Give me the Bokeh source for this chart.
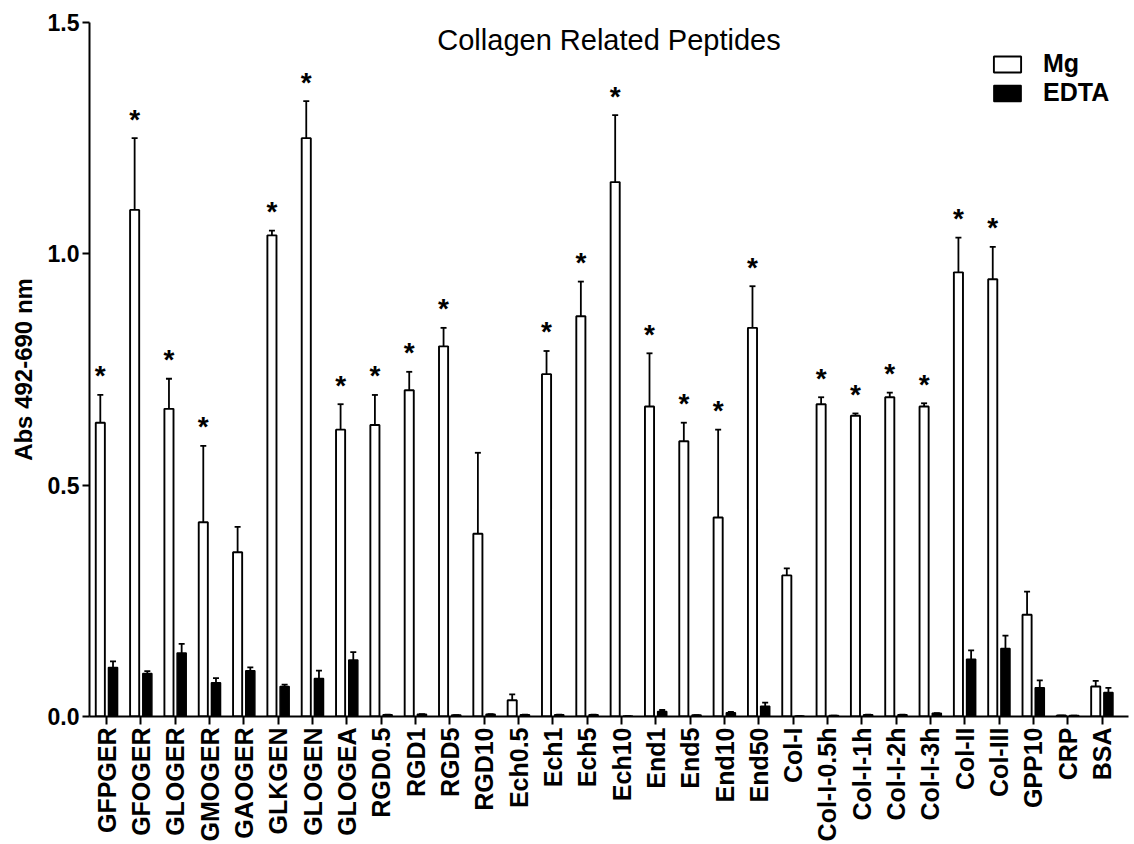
import numpy as np
from bokeh.plotting import figure
from bokeh.models import (ColumnDataSource, Range1d, FixedTicker, Whisker, TeeHead,
                          Legend, LegendItem, Label)
from bokeh.transform import dodge
from bokeh.core.properties import value
from bokeh.embed import file_html
from bokeh.resources import INLINE

categories = ["GFPGER", "GFOGER", "GLOGER", "GMOGER", "GAOGER", "GLKGEN", "GLOGEN", "GLOGEA",
              "RGD0.5", "RGD1", "RGD5", "RGD10", "Ech0.5", "Ech1", "Ech5", "Ech10",
              "End1", "End5", "End10", "End50", "Col-I", "Col-I-0.5h", "Col-I-1h", "Col-I-2h",
              "Col-I-3h", "Col-II", "Col-III", "GPP10", "CRP", "BSA"]

mg_mean = [0.635, 1.095, 0.665, 0.420, 0.355, 1.040, 1.250, 0.620,
           0.630, 0.705, 0.800, 0.395, 0.035, 0.740, 0.865, 1.155,
           0.670, 0.595, 0.430, 0.840, 0.305, 0.675, 0.650, 0.690,
           0.670, 0.960, 0.945, 0.220, 0.002, 0.065]
mg_sem = [0.060, 0.155, 0.065, 0.165, 0.055, 0.010, 0.080, 0.055,
          0.065, 0.040, 0.040, 0.175, 0.013, 0.050, 0.075, 0.145,
          0.115, 0.040, 0.190, 0.090, 0.015, 0.015, 0.005, 0.010,
          0.007, 0.075, 0.070, 0.050, 0.000, 0.012]

edta_mean = [0.106, 0.093, 0.137, 0.073, 0.099, 0.065, 0.082, 0.122,
             0.004, 0.005, 0.003, 0.005, 0.004, 0.004, 0.004, 0.001,
             0.011, 0.003, 0.008, 0.022, 0.001, 0.002, 0.004, 0.004,
             0.007, 0.124, 0.147, 0.062, 0.002, 0.052]
edta_sem = [0.013, 0.005, 0.020, 0.010, 0.007, 0.004, 0.017, 0.017,
            0.000, 0.000, 0.000, 0.000, 0.000, 0.000, 0.000, 0.000,
            0.003, 0.000, 0.002, 0.008, 0.000, 0.000, 0.000, 0.000,
            0.000, 0.019, 0.028, 0.016, 0.000, 0.010]

significant = [1, 1, 1, 1, 0, 1, 1, 1,
               1, 1, 1, 0, 0, 1, 1, 1,
               1, 1, 1, 1, 0, 1, 1, 1,
               1, 1, 1, 0, 0, 0]

y_ticks = [0.0, 0.5, 1.0, 1.5]
y_tick_labels = ["0.0", "0.5", "1.0", "1.5"]

FONT = "Liberation Sans"
n = len(categories)
idx = list(range(n))
mg_up = list(np.add(mg_mean, mg_sem))
ed_up = list(np.add(edta_mean, edta_sem))

src = ColumnDataSource(dict(x=idx, mg=mg_mean, mg_up=mg_up, ed=edta_mean, ed_up=ed_up))
sig_x = [i for i in idx if significant[i]]
sig_y = [mg_up[i] for i in sig_x]
tsrc = ColumnDataSource(dict(x=sig_x, y=sig_y))

p = figure(width=1134, height=844, x_range=Range1d(-0.5, 29.77), y_range=Range1d(0, 1.5),
           output_backend="svg", toolbar_location=None,
           min_border_left=89, min_border_right=6, min_border_top=22, min_border_bottom=127)
p.background_fill_color = "white"
p.border_fill_color = "white"
p.outline_line_color = None
p.xgrid.visible = False
p.ygrid.visible = False

OFF = 0.185
W = 0.265

r_mg = p.vbar(x=dodge("x", -OFF), top="mg", bottom=0, width=W, source=src,
              fill_color="white", line_color="black", line_width=1.9)
r_ed = p.vbar(x=dodge("x", OFF), top="ed", bottom=0, width=W, source=src,
              fill_color="black", line_color="black", line_width=1.5)

for col_lo, col_up, off in (("mg", "mg_up", -OFF), ("ed", "ed_up", OFF)):
    wk = Whisker(source=src, base=dodge("x", off), lower=col_lo, upper=col_up,
                 dimension="height", line_color="black", line_width=1.8,
                 upper_head=TeeHead(size=6, line_width=1.8, line_color="black"),
                 lower_head=None, level="glyph")
    p.add_layout(wk)

p.text(x=dodge("x", -OFF), y="y", text=value("*"), source=tsrc,
       text_font=value(FONT), text_font_style="bold", text_font_size="28px",
       text_align="center", text_baseline="alphabetic", y_offset=-19, text_color="black")

# axes
for ax in (p.xaxis[0], p.yaxis[0]):
    ax.axis_line_color = "black"
    ax.axis_line_width = 2
    ax.major_tick_line_color = "black"
    ax.major_tick_line_width = 2
    ax.major_tick_in = 0
    ax.minor_tick_line_color = None
    ax.major_label_text_font = FONT
    ax.major_label_text_font_style = "bold"
    ax.major_label_text_color = "black"

p.xaxis.ticker = FixedTicker(ticks=idx)
p.xaxis.major_label_overrides = {i: c for i, c in enumerate(categories)}
p.xaxis.major_label_orientation = np.pi / 2
p.xaxis.major_label_text_font_size = "25px"
p.xaxis.major_tick_out = 8
p.xaxis.major_label_standoff = 3

p.yaxis.ticker = FixedTicker(ticks=y_ticks)
p.yaxis.major_label_overrides = {t: l for t, l in zip(y_ticks, y_tick_labels)}
p.yaxis.major_label_text_font_size = "23px"
p.yaxis.major_tick_out = 7
p.yaxis.major_label_standoff = 3
p.yaxis.axis_label = "Abs 492-690 nm"
p.yaxis.axis_label_text_font = FONT
p.yaxis.axis_label_text_font_style = "bold"
p.yaxis.axis_label_text_font_size = "24px"
p.yaxis.axis_label_text_color = "black"
p.yaxis.axis_label_standoff = 8

title = Label(x=(p.x_range.start + p.x_range.end) / 2, y=1.5, text="Collagen Related Peptides",
              text_font=FONT, text_font_size="29px", text_align="center",
              text_baseline="top", y_offset=-1, text_color="black")
p.add_layout(title)

legend = Legend(items=[LegendItem(label="Mg", renderers=[r_mg]),
                       LegendItem(label="EDTA", renderers=[r_ed])],
                location=(901, 609), orientation="vertical",
                border_line_color=None, background_fill_alpha=0,
                padding=0, margin=0, spacing=0,
                glyph_width=34, glyph_height=20, label_standoff=19,
                label_text_font=FONT, label_text_font_style="bold",
                label_text_font_size="25px", label_text_color="black")
p.add_layout(legend)

open("out.html", "w").write(file_html(p, INLINE))
